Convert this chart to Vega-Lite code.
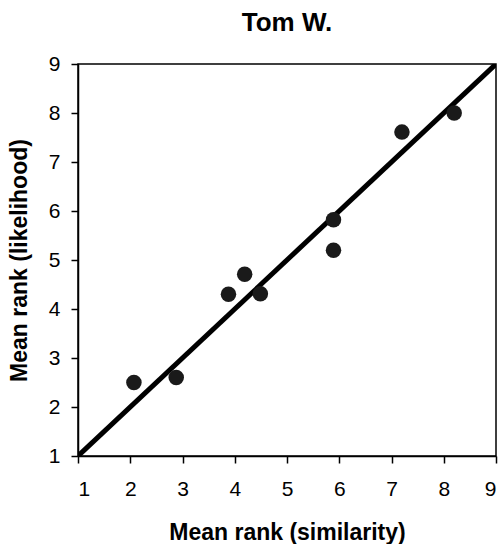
{
  "$schema": "https://vega.github.io/schema/vega-lite/v6.json",
  "autosize": "none",
  "width": 418,
  "height": 392,
  "padding": {"left": 78, "top": 64, "right": 6, "bottom": 88},
  "title": {"text": "Tom W.", "fontSize": 26, "font": "Liberation Sans", "fontWeight": "bold", "color": "black", "offset": 17, "anchor": "middle"},
  "config": {
    "view": {"stroke": "black", "strokeWidth": 1.5},
    "axis": {"domainColor": "black", "domainWidth": 1.5, "tickColor": "black", "tickWidth": 1.5, "tickSize": 7, "labelFont": "Liberation Sans", "labelFontSize": 21, "labelColor": "black", "titleFont": "Liberation Sans", "titleFontSize": 23, "titleFontWeight": "bold", "titleColor": "black", "grid": false}
  },
  "datasets": {
    "pts": [
      {"sim": 2.07, "lik": 2.5},
      {"sim": 2.88, "lik": 2.6},
      {"sim": 3.88, "lik": 4.3},
      {"sim": 4.19, "lik": 4.71},
      {"sim": 4.49, "lik": 4.31},
      {"sim": 5.89, "lik": 5.82},
      {"sim": 5.89, "lik": 5.2},
      {"sim": 7.2, "lik": 7.61},
      {"sim": 8.2, "lik": 8.0}
    ],
    "diag": [
      {"sim": 1, "lik": 1},
      {"sim": 9, "lik": 9}
    ]
  },
  "layer": [
    {
      "data": {"name": "diag"},
      "mark": {"type": "line", "color": "black", "strokeWidth": 5, "clip": true},
      "encoding": {
        "x": {"field": "sim", "type": "quantitative", "scale": {"domain": [1, 9], "nice": false, "zero": false}, "axis": {"title": "Mean rank (similarity)", "values": [1,2,3,4,5,6,7,8,9], "labelPadding": 15, "titlePadding": 22}},
        "y": {"field": "lik", "type": "quantitative", "scale": {"domain": [1, 9], "nice": false, "zero": false}, "axis": {"title": "Mean rank (likelihood)", "values": [1,2,3,4,5,6,7,8,9], "labelPadding": 11, "titlePadding": 17}}
      }
    },
    {
      "data": {"name": "pts"},
      "mark": {"type": "circle", "color": "#1a1a1a", "opacity": 1, "size": 240},
      "encoding": {
        "x": {"field": "sim", "type": "quantitative"},
        "y": {"field": "lik", "type": "quantitative"}
      }
    }
  ]
}
